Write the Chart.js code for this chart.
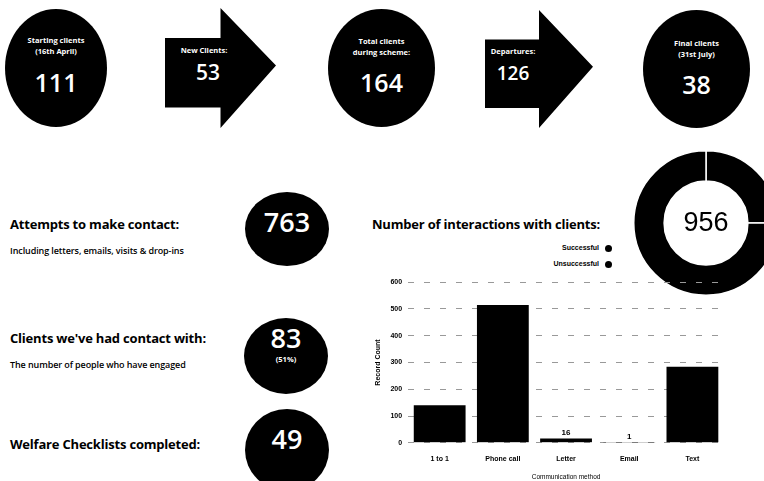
<!DOCTYPE html>
<html>
<head>
<meta charset="utf-8">
<script src="https://cdn.jsdelivr.net/npm/chart.js@4/dist/chart.umd.min.js"></script>
<style>
  html, body { margin: 0; padding: 0; background: #fff; }
  body { width: 764px; height: 481px; overflow: hidden; position: relative; font-family: "Open Sans", Lato, sans-serif; }
  .blob { position: absolute; background: #000; border-radius: 50%; color: #fff; text-align: center; }
  .arrow { position: absolute; background: #000; color: #fff; text-align: center;
           clip-path: polygon(0 25%, 50% 25%, 50% 0, 100% 48%, 50% 100%, 50% 83%, 0 83%); }
  .lbl { position: absolute; font-weight: bold; font-size: 7.5px; line-height: 11px; }
  .big { position: absolute; font-size: 25px; line-height: 26px; font-weight: 600; }
  .txt { position: absolute; color: #000; white-space: nowrap; }
  .h { font-weight: bold; font-size: 13px; letter-spacing: -0.2px; }
  .s { font-size: 9px; letter-spacing: -0.1px; font-weight: 600; }
  .leg { position: absolute; font-size: 7px; font-weight: bold; font-family: "Liberation Sans", Arial, sans-serif; text-align: right; }
  .dot { display: inline-block; width: 7px; height: 7px; border-radius: 50%; background: #000; margin-left: 6px; vertical-align: middle; }
</style>
</head>
<body>

<!-- rangée du haut -->
<div class="blob" style="left:5px; top:9px; width:102px; height:118px;">
  <div class="lbl" style="left:0; width:102px; top:26px;">Starting clients<br>(16th April)</div>
  <div class="big" style="left:0; width:102px; top:60px;">111</div>
</div>
<div class="arrow" style="left:165px; top:8px; width:111px; height:120px;">
  <div class="lbl" style="left:0; width:78px; top:37px;">New Clients:</div>
  <div class="big" style="left:0; width:86px; top:51px; font-size:21px;">53</div>
</div>
<div class="blob" style="left:328px; top:9px; width:107px; height:118px;">
  <div class="lbl" style="left:0; width:107px; top:27px;">Total clients<br>during scheme:</div>
  <div class="big" style="left:0; width:107px; top:60px;">164</div>
</div>
<div class="arrow" style="left:485px; top:10px; width:108px; height:118px;">
  <div class="lbl" style="left:0; width:56px; top:36px;">Departures:</div>
  <div class="big" style="left:0; width:56px; top:50px; font-size:19px;">126</div>
</div>
<div class="blob" style="left:643px; top:10px; width:107px; height:118px;">
  <div class="lbl" style="left:0; width:107px; top:28px;">Final clients<br>(31st July)</div>
  <div class="big" style="left:0; width:107px; top:61px;">38</div>
</div>

<!-- bloc de gauche -->
<div class="txt h" style="left:10px; top:215px;">Attempts to make contact:</div>
<div class="txt s" style="left:10px; top:244px;">Including letters, emails, visits &amp; drop-ins</div>
<div class="blob" style="left:245px; top:192px; width:84px; height:74px;">
  <div class="big" style="left:0; width:84px; top:17px; font-size:27px;">763</div>
</div>

<div class="txt h" style="left:10px; top:329px;">Clients we've had contact with:</div>
<div class="txt s" style="left:10px; top:358px;">The number of people who have engaged</div>
<div class="blob" style="left:244px; top:318px; width:84px; height:76px;">
  <div class="big" style="left:0; width:84px; top:7px; font-size:27px;">83</div>
  <div class="lbl" style="left:0; width:84px; top:36px;">(51%)</div>
</div>

<div class="txt h" style="left:10px; top:435px;">Welfare Checklists completed:</div>
<div class="blob" style="left:245px; top:409px; width:84px; height:82px;">
  <div class="big" style="left:0; width:84px; top:17px; font-size:27px;">49</div>
</div>

<!-- bloc de droite -->
<div class="txt h" style="left:372px; top:215px;">Number of interactions with clients:</div>
<div class="leg" style="left:510px; width:102px; top:244px;">Successful<span class="dot"></span></div>
<div class="leg" style="left:510px; width:102px; top:260px;">Unsuccessful<span class="dot"></span></div>

<canvas id="anneau" style="position:absolute; left:631px; top:148px; width:150px; height:150px;"></canvas>
<canvas id="barres" style="position:absolute; left:372px; top:272px; width:360px; height:209px;"></canvas>

<script>
// Données
const methodes = ['1 to 1', 'Phone call', 'Letter', 'Email', 'Text'];
const nbInteractions = [140, 515, 16, 1, 284];
const resultats = ['Successful', 'Unsuccessful'];
const nbResultats = [239, 717];
const totalInteractions = 956;
const ticksY = [0, 100, 200, 300, 400, 500, 600];

// Anneau (total au centre)
const texteCentre = {
  id: 'texteCentre',
  afterDraw(chart) {
    const c = chart.ctx;
    const a = chart.getDatasetMeta(0).data[0];
    c.save();
    c.fillStyle = '#000';
    c.font = '27px "Liberation Sans", Arial, sans-serif';
    c.textAlign = 'center';
    c.textBaseline = 'middle';
    c.fillText(String(totalInteractions), a.x, a.y + 1);
    c.restore();
  }
};

new Chart(document.getElementById('anneau'), {
  type: 'doughnut',
  data: {
    labels: resultats,
    datasets: [{
      data: nbResultats,
      backgroundColor: ['#000', '#000'],
      borderColor: '#fff',
      borderWidth: 1.5
    }]
  },
  options: {
    responsive: false,
    animation: false,
    cutout: '58%',
    layout: { padding: 2 },
    plugins: { legend: { display: false }, tooltip: { enabled: false } }
  },
  plugins: [texteCentre]
});

// Étiquettes au-dessus des petites barres
const petitesValeurs = {
  id: 'petitesValeurs',
  afterDatasetsDraw(chart) {
    const c = chart.ctx;
    const meta = chart.getDatasetMeta(0);
    c.save();
    c.fillStyle = '#000';
    c.font = 'bold 8px "Liberation Sans", Arial, sans-serif';
    c.textAlign = 'center';
    meta.data.forEach((bar, i) => {
      if (nbInteractions[i] < 50) c.fillText(String(nbInteractions[i]), bar.x, bar.y - 4);
    });
    c.restore();
  }
};

new Chart(document.getElementById('barres'), {
  type: 'bar',
  data: {
    labels: methodes,
    datasets: [{
      label: 'Record Count',
      data: nbInteractions,
      backgroundColor: '#000',
      borderWidth: 0,
      barPercentage: 0.82,
      categoryPercentage: 1
    }]
  },
  options: {
    responsive: false,
    animation: false,
    layout: { padding: { top: 6, right: 8 } },
    plugins: { legend: { display: false }, tooltip: { enabled: false } },
    scales: {
      y: {
        min: 0,
        max: 600,
        afterBuildTicks: axis => { axis.ticks = ticksY.map(v => ({ value: v })); },
        border: { display: false, dash: [6, 10] },
        grid: { color: '#999', lineWidth: 1, drawTicks: false },
        ticks: { color: '#000', font: { family: 'Liberation Sans', size: 7, weight: 'bold' }, padding: 6 },
        title: { display: true, text: 'Record Count', color: '#000', font: { family: 'Liberation Sans', size: 7, weight: 'bold' }, padding: 2 }
      },
      x: {
        border: { display: false },
        grid: { display: false },
        ticks: { color: '#000', font: { family: 'Liberation Sans', size: 7, weight: 'bold' }, padding: 4 },
        title: { display: true, text: 'Communication method', color: '#000', font: { family: 'Liberation Sans', size: 6.5 }, padding: { top: 6, bottom: 0 } }
      }
    }
  },
  plugins: [petitesValeurs]
});
</script>
</body>
</html>
